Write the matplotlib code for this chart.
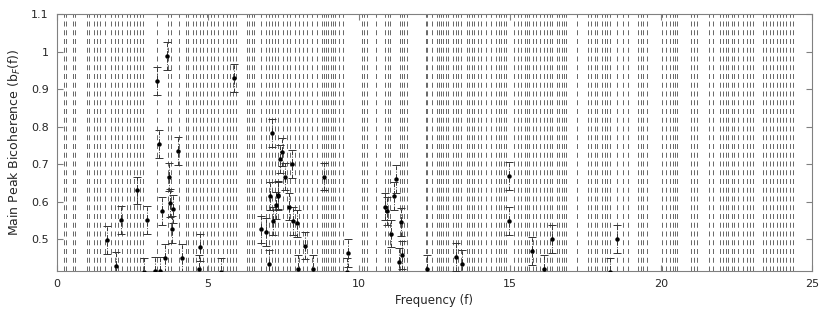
import numpy as np
import matplotlib.pyplot as plt

# vertical marker lines (frequency positions)
vlines_f = [0.23, 0.30, 0.53, 0.60, 0.99, 1.06, 1.23, 1.32, 1.42, 1.59, 1.79, 1.92,
            2.02, 2.15, 2.32, 2.42, 2.55, 2.65, 2.75, 2.85, 3.31, 3.68, 3.77, 4.04,
            4.27, 4.34, 4.50, 4.60, 4.74, 4.83, 4.97, 5.10, 5.20, 5.33, 5.50, 5.63,
            5.73, 5.83, 5.93, 6.29, 6.36, 6.46, 6.52, 6.75, 6.92, 7.02, 7.12, 7.22,
            7.32, 7.48, 7.62, 7.72, 7.88, 8.01, 8.15, 8.28, 8.44, 8.61, 8.77, 8.84,
            8.91, 8.97, 9.07, 9.14, 9.21, 9.34, 9.47, 10.10, 10.17, 10.26, 10.56,
            10.86, 10.96, 11.03, 11.36, 11.42, 11.49, 11.59, 12.22, 12.27, 12.42,
            12.58, 12.65, 12.72, 12.78, 12.88, 12.95, 13.11, 13.21, 13.28, 13.38,
            13.58, 13.64, 13.74, 13.81, 13.94, 14.04, 14.20, 14.37, 14.53, 14.63,
            14.72, 14.80, 14.88, 15.13, 15.26, 15.36, 15.50, 15.56, 15.63, 15.76,
            15.86, 15.99, 16.13, 16.23, 16.32, 16.39, 16.56, 16.62, 16.72, 16.79,
            16.85, 17.22, 17.58, 17.68, 17.81, 17.88, 18.05, 18.15, 18.21, 18.31,
            18.54, 18.74, 18.91, 19.24, 19.34, 19.40, 19.54, 20.03, 20.17, 20.30,
            20.40, 20.46, 20.53, 20.99, 21.09, 21.19, 21.59, 21.72, 21.95, 22.05,
            22.15, 22.22, 22.35, 22.42, 22.55, 22.72, 22.85, 22.95, 23.05, 23.38,
            23.48, 23.61, 23.71, 23.84, 23.94, 24.04, 24.14, 24.27, 24.37]

# measured main peak bicoherence
freq = [1.65, 1.94, 2.12, 2.66, 2.89, 2.99, 3.25, 3.32, 3.38, 3.41, 3.47, 3.57,
        3.65, 3.70, 3.74, 3.81, 3.85, 4.00, 4.13, 4.71, 4.74, 5.43, 5.87, 6.75,
        6.92, 7.02, 7.07, 7.11, 7.16, 7.27, 7.31, 7.33, 7.39, 7.44, 7.55, 7.69,
        7.79, 7.83, 7.94, 7.99, 8.21, 8.47, 8.85, 9.61, 9.65, 10.85, 10.94, 11.05,
        11.15, 11.24, 11.34, 11.39, 11.43, 12.26, 13.21, 13.41, 14.97, 14.98,
        15.75, 16.14, 16.41, 18.33, 18.56]
bic = [0.497, 0.429, 0.552, 0.630, 0.414, 0.552, 0.416, 0.922, 0.753, 0.416, 0.575, 0.449,
       0.989, 0.665, 0.597, 0.526, 0.580, 0.735, 0.449, 0.422, 0.478, 0.414, 0.929, 0.526,
       0.519, 0.434, 0.616, 0.784, 0.548, 0.590, 0.615, 0.618, 0.713, 0.733, 0.667, 0.587,
       0.700, 0.548, 0.542, 0.422, 0.483, 0.422, 0.667, 0.414, 0.464, 0.587, 0.576, 0.515,
       0.616, 0.660, 0.440, 0.545, 0.457, 0.421, 0.453, 0.434, 0.668, 0.549,
       0.468, 0.421, 0.500, 0.414, 0.500]
err = [0.037] * len(freq)

fig = plt.figure(figsize=(8.3, 3.12), dpi=100)
ax = fig.add_axes([0.0687, 0.131, 0.9093, 0.824])

ymin, ymax = 0.415, 1.1
for f in vlines_f:
    ax.plot([f, f], [ymin, ymax], color='0.3', lw=0.6, dashes=(6, 4.5), zorder=1)

eb = ax.errorbar(freq, bic, yerr=err, fmt='o', color='black', ms=2.2,
                 ecolor='0.2', elinewidth=0.7, capsize=3, capthick=0.7, zorder=3)
for lc in eb[2]:
    lc.set_linestyle((0, (4, 1.5, 1, 1.5)))

ax.set_xlim(0, 25)
ax.set_ylim(ymin, ymax)
ax.set_xticks([0, 5, 10, 15, 20, 25])
ax.set_yticks([0.5, 0.6, 0.7, 0.8, 0.9, 1.0, 1.1])
ax.set_yticklabels(['0.5', '0.6', '0.7', '0.8', '0.9', '1', '1.1'])
ax.tick_params(direction='in', top=True, right=True, length=4, width=0.8,
               color='0.5', labelsize=8, labelcolor='0.15', pad=6)
for s in ax.spines.values():
    s.set_color('0.5')
    s.set_linewidth(0.8)

ax.set_xlabel('Frequency (f)', fontsize=8.5, color='0.15', labelpad=3)
ax.set_ylabel('Main Peak Bicoherence (b$_F$(f))', fontsize=9, color='0.15', labelpad=6)

fig.savefig('out.png', dpi=100)
